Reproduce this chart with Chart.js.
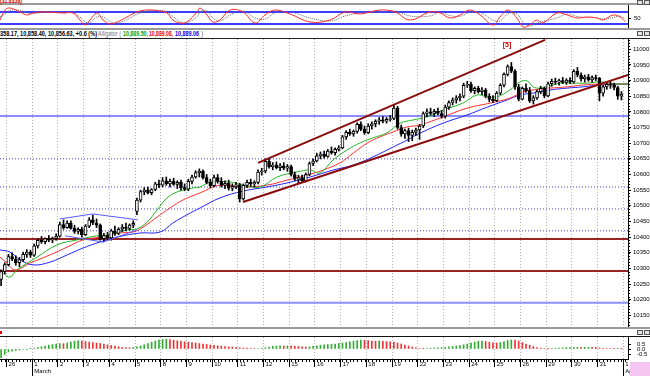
<!DOCTYPE html>
<html>
<head>
<meta charset="utf-8">
<title>Dow hourly - Alligator</title>
<script src="https://cdn.jsdelivr.net/npm/chart.js@4.4.1/dist/chart.umd.min.js"></script>
<style>
  html, body { margin: 0; padding: 0; background: #fff; }
  body { position: relative; width: 650px; height: 376px; overflow: hidden; font-family: "Liberation Sans", Arial, sans-serif; }
  canvas { position: absolute; left: 0; display: block; }
  .rule { position: absolute; left: 0; width: 650px; }
  .txt { position: absolute; white-space: nowrap; font-size: 7px; line-height: 8px; transform-origin: 0 0; display: inline-block; }
  .btn { position: absolute; width: 4px; height: 3px; border: 1px solid #555; background: #e2e2e2; }
</style>
</head>
<body>
<canvas id="osc" width="650" height="23" style="top:5px"></canvas>
<canvas id="main" width="650" height="288" style="top:39px"></canvas>
<canvas id="ao" width="650" height="39" style="top:337px"></canvas>

<div class="rule" style="top:3px;height:2px;background:#9a9a9a"></div>
<div class="rule" style="top:28px;height:2px;background:#9a9a9a"></div>
<div class="rule" style="top:38px;height:1px;background:#222"></div>
<div class="rule" style="top:327px;height:2px;background:#9a9a9a"></div>
<div class="rule" style="top:336px;height:1px;background:#111"></div>

<span class="txt" id="oscHead" style="left:0;top:-3px;color:#e00000;font-weight:bold">(31.8358)</span>
<span class="txt" id="h1" style="left:0;top:30px;font-weight:bold;color:#000">358.17, 10,858.40, 10,856.63, +0.6 (%)</span>
<span class="txt" id="h2" style="left:98px;top:30px;color:#777">Alligator (</span>
<span class="txt" id="h3" style="left:123px;top:30px;font-weight:bold;color:#00a000">10,889.50,</span>
<span class="txt" id="h4" style="left:149px;top:30px;font-weight:bold;color:#ee0000">10,889.08,</span>
<span class="txt" id="h5" style="left:175px;top:30px;font-weight:bold;color:#0000ee">10,889.06</span>
<span class="txt" id="h6" style="left:201px;top:30px;color:#777">)</span>

<div style="position:absolute;left:0;top:331px;width:2px;height:3px;background:#e00000"></div>
<div class="btn" style="left:637px;top:0"></div><div class="btn" style="left:644px;top:0"></div>
<div class="btn" style="left:637px;top:31px"></div><div class="btn" style="left:644px;top:31px"></div>
<div class="btn" style="left:637px;top:330px"></div><div class="btn" style="left:644px;top:330px"></div>
<div style="position:absolute;left:630px;top:362px;width:20px;height:14px;background:#f6c6f2"></div>

<script>
// time axis: Feb 26 .. Apr 1, hourly bars (7 per day), two Feb 25 bars at the left edge
const dayLabels = ['26','1','2','3','4','5','8','9','10','11','12','15','16','17','18','19','22','23','24','25','26','29','30','31','1'];
const monthStartDays = [1, 24];
const monthNames = ['March', 'Ap'];
const barsPerDay = 7;
const firstBar = -2;

const opens = [
  10265, 10290,
  10312, 10338, 10330, 10318, 10328, 10345, 10352,
  10342, 10372, 10390, 10385, 10395, 10390, 10396,
  10403, 10440, 10430, 10445, 10428, 10418, 10425,
  10408, 10435, 10455, 10445, 10438, 10395, 10405,
  10397, 10420, 10412, 10425, 10432, 10428, 10438,
  10482, 10518, 10545, 10550, 10542, 10552, 10570,
  10566, 10580, 10570, 10578, 10568, 10575, 10558,
  10553, 10578, 10592, 10606, 10610, 10590, 10575,
  10564, 10590, 10578, 10565, 10572, 10556, 10562,
  10567, 10522, 10565, 10575, 10570, 10575, 10608,
  10611, 10642, 10625, 10630, 10622, 10628, 10620,
  10625, 10600, 10585, 10590, 10580, 10600, 10635,
  10643, 10660, 10665, 10658, 10675, 10670, 10680,
  10685, 10720, 10735, 10730, 10738, 10760, 10745,
  10734, 10755, 10762, 10770, 10775, 10770, 10776,
  10779, 10812, 10750, 10730, 10740, 10725, 10735,
  10742, 10755, 10795, 10800, 10795, 10802, 10795,
  10786, 10815, 10830, 10838, 10845, 10850, 10885,
  10888, 10868, 10875, 10865, 10870, 10850, 10840,
  10836, 10860, 10885, 10920, 10945, 10930, 10880,
  10841, 10875, 10868, 10835, 10845, 10865, 10875,
  10851, 10890, 10898, 10895, 10900, 10894, 10902,
  10896, 10930, 10918, 10905, 10912, 10902, 10910,
  10907, 10860, 10880, 10888, 10885, 10878, 10850
];
const highs = [
  10295, 10318,
  10345, 10350, 10340, 10335, 10352, 10360, 10358,
  10378, 10395, 10402, 10398, 10405, 10400, 10410,
  10448, 10455, 10452, 10452, 10438, 10430, 10432,
  10440, 10462, 10470, 10458, 10442, 10412, 10415,
  10425, 10435, 10430, 10440, 10445, 10442, 10452,
  10525, 10550, 10558, 10560, 10555, 10575, 10582,
  10590, 10592, 10585, 10588, 10580, 10582, 10570,
  10585, 10598, 10612, 10618, 10615, 10600, 10585,
  10598, 10600, 10590, 10580, 10582, 10570, 10575,
  10572, 10570, 10582, 10585, 10580, 10615, 10620,
  10650, 10650, 10638, 10640, 10635, 10638, 10632,
  10630, 10608, 10598, 10598, 10605, 10640, 10650,
  10668, 10672, 10675, 10680, 10688, 10685, 10692,
  10725, 10740, 10745, 10742, 10765, 10768, 10755,
  10762, 10768, 10775, 10782, 10785, 10782, 10788,
  10822, 10818, 10758, 10745, 10748, 10742, 10748,
  10760, 10800, 10810, 10812, 10808, 10812, 10805,
  10822, 10835, 10845, 10852, 10858, 10892, 10898,
  10895, 10880, 10882, 10878, 10875, 10858, 10852,
  10865, 10890, 10925, 10950, 10958, 10935, 10888,
  10880, 10890, 10878, 10852, 10870, 10882, 10880,
  10895, 10905, 10908, 10905, 10910, 10906, 10910,
  10935, 10942, 10925, 10918, 10920, 10915, 10918,
  10910, 10885, 10895, 10898, 10892, 10882, 10865
];
const lows = [
  10245, 10282,
  10308, 10325, 10310, 10305, 10322, 10335, 10335,
  10338, 10365, 10380, 10378, 10385, 10382, 10390,
  10400, 10425, 10428, 10425, 10412, 10410, 10400,
  10405, 10430, 10440, 10430, 10390, 10385, 10392,
  10390, 10405, 10408, 10418, 10420, 10422, 10430,
  10472, 10512, 10535, 10538, 10535, 10548, 10558,
  10560, 10565, 10560, 10565, 10555, 10550, 10548,
  10548, 10570, 10588, 10592, 10585, 10570, 10558,
  10560, 10572, 10560, 10555, 10550, 10548, 10555,
  10512, 10518, 10558, 10562, 10560, 10570, 10598,
  10605, 10620, 10615, 10618, 10612, 10615, 10610,
  10595, 10580, 10572, 10575, 10576, 10596, 10628,
  10640, 10650, 10652, 10655, 10665, 10662, 10675,
  10682, 10712, 10725, 10722, 10732, 10740, 10728,
  10730, 10745, 10752, 10760, 10765, 10764, 10770,
  10775, 10745, 10722, 10715, 10705, 10708, 10725,
  10712, 10750, 10785, 10790, 10785, 10790, 10780,
  10780, 10808, 10822, 10828, 10835, 10845, 10878,
  10862, 10858, 10860, 10855, 10845, 10832, 10830,
  10832, 10855, 10880, 10915, 10925, 10872, 10835,
  10838, 10862, 10830, 10825, 10840, 10858, 10845,
  10848, 10882, 10888, 10885, 10890, 10888, 10890,
  10892, 10912, 10898, 10895, 10898, 10895, 10900,
  10835, 10850, 10872, 10875, 10870, 10840, 10838
];
const closes = [
  10290, 10312,
  10338, 10330, 10318, 10328, 10345, 10352, 10342,
  10372, 10390, 10385, 10395, 10390, 10396, 10403,
  10440, 10430, 10445, 10428, 10418, 10425, 10408,
  10435, 10455, 10445, 10438, 10395, 10405, 10397,
  10420, 10412, 10425, 10432, 10428, 10438, 10444,
  10518, 10545, 10550, 10542, 10552, 10570, 10566,
  10580, 10570, 10578, 10568, 10575, 10558, 10553,
  10578, 10592, 10606, 10610, 10590, 10575, 10564,
  10590, 10578, 10565, 10572, 10556, 10562, 10567,
  10522, 10565, 10575, 10570, 10575, 10608, 10611,
  10642, 10625, 10630, 10622, 10628, 10620, 10625,
  10600, 10585, 10590, 10580, 10600, 10635, 10643,
  10660, 10665, 10658, 10675, 10670, 10680, 10685,
  10720, 10735, 10730, 10738, 10760, 10745, 10734,
  10755, 10762, 10770, 10775, 10770, 10776, 10779,
  10812, 10750, 10730, 10740, 10725, 10735, 10742,
  10755, 10795, 10800, 10795, 10802, 10795, 10786,
  10815, 10830, 10838, 10845, 10850, 10885, 10888,
  10868, 10875, 10865, 10870, 10850, 10840, 10836,
  10860, 10885, 10920, 10945, 10930, 10880, 10841,
  10875, 10868, 10835, 10845, 10865, 10875, 10851,
  10890, 10898, 10895, 10900, 10894, 10902, 10896,
  10930, 10918, 10905, 10912, 10902, 10910, 10907,
  10860, 10880, 10888, 10885, 10878, 10850, 10857
];

// alligator lines at a few bar positions
const lipsBars = [-1.5, 0.4, 2.3, 7.8, 13.2, 18.7, 24.1, 27.7, 32.3, 35.0, 37.8, 40.5, 43.2, 45.9, 50.3, 52.2, 54.9, 60.4, 63.9, 68.5, 73.2, 78.6, 82.2, 84.9, 88.4, 92.2, 95.8, 99.3, 103.1, 106.7, 110.2, 114.0, 118.4, 123.8, 127.6, 130.4, 133.1, 136.6, 139.4, 141.3, 142.9, 144.8, 147.5, 150.3, 153.8, 157.6, 161.2, 163.9, 166.6, 168.8];
const lipsValues = [10285, 10272, 10295, 10336, 10375, 10391, 10404, 10407, 10423, 10426, 10448, 10487, 10525, 10544, 10557, 10560, 10576, 10576, 10566, 10560, 10592, 10608, 10614, 10605, 10646, 10678, 10701, 10717, 10733, 10764, 10774, 10784, 10806, 10828, 10854, 10848, 10848, 10870, 10896, 10899, 10880, 10876, 10883, 10892, 10892, 10892, 10896, 10892, 10889, 10889];
const teethBars = [-2.3, -0.4, 1.8, 5.9, 11.3, 16.0, 20.3, 24.9, 29.6, 33.9, 36.7, 40.5, 44.0, 47.6, 52.2, 57.6, 63.9, 70.4, 75.9, 81.3, 85.7, 90.3, 93.9, 97.7, 101.2, 104.8, 108.6, 112.1, 118.4, 124.9, 131.2, 136.6, 140.2, 142.9, 147.5, 152.2, 156.5, 161.2, 168.8];
const teethValues = [10336, 10317, 10295, 10317, 10343, 10368, 10391, 10400, 10413, 10416, 10432, 10464, 10493, 10519, 10541, 10566, 10560, 10566, 10582, 10598, 10614, 10637, 10668, 10700, 10720, 10736, 10752, 10758, 10784, 10812, 10828, 10844, 10864, 10870, 10876, 10880, 10886, 10889, 10889];
const jawBars = [-2.3, 0.4, 3.2, 6.7, 11.3, 16.0, 20.3, 24.9, 29.6, 35.8, 41.3, 44.8, 48.6, 52.2, 57.6, 63.9, 70.4, 75.9, 82.2, 88.4, 93.9, 99.3, 104.8, 108.6, 112.1, 118.4, 124.9, 130.4, 135.8, 139.4, 142.9, 147.5, 152.2, 156.5, 161.2, 168.8];
const jawValues = [10359, 10352, 10327, 10311, 10320, 10343, 10365, 10384, 10400, 10413, 10416, 10445, 10471, 10493, 10525, 10547, 10560, 10573, 10592, 10614, 10630, 10656, 10688, 10710, 10732, 10764, 10790, 10815, 10838, 10854, 10860, 10870, 10876, 10880, 10886, 10889];

// drawn lines: channel, wedge and horizontal levels
const upperChannelBars = [68.0, 146.2];
const upperChannelValues = [10637, 11030];
const lowerChannelBars = [63.9, 168.8];
const lowerChannelValues = [10512, 10918];
const wedgeTopBars = [14.0, 23.0, 35.3];
const wedgeTopValues = [10458, 10474, 10455];
const wedgeBottomBars = [15.4, 25.8, 35.0];
const wedgeBottomValues = [10404, 10384, 10423];
const solidBlueLevels = [10787, 10190];
const dottedBlueLevels = [10650, 10560, 10490, 10420];
const redLevels = [10394, 10292];
const priceTicks = [11000, 10950, 10900, 10850, 10800, 10750, 10700, 10650, 10600, 10550, 10500, 10450, 10400, 10350, 10300, 10250, 10200, 10150];
const waveLabel = { text: '[5]', bar: 135.8, price: 11013 };

// oscillator (top panel)
const oscBars = [-2.3, -0.9, 0.4, 3.2, 5.1, 6.7, 8.6, 10.5, 14.9, 17.6, 19.5, 20.9, 22.2, 24.1, 25.8, 27.7, 29.6, 32.3, 35.0, 37.8, 41.3, 43.2, 44.8, 46.7, 48.6, 51.4, 52.2, 54.1, 55.7, 57.6, 60.4, 63.9, 67.2, 69.9, 72.6, 76.7, 82.2, 87.6, 91.7, 95.8, 101.2, 105.3, 109.4, 114.8, 117.6, 120.3, 123.0, 125.7, 128.5, 132.0, 133.9, 136.1, 138.5, 140.2, 142.0, 143.9, 145.6, 149.4, 152.2, 154.9, 157.6, 160.3, 162.0, 164.7, 166.6, 168.0];
const oscValues = [40, 90, 100, 80, 65, 75, 80, 80, 75, 75, 40, 15, 40, 75, 40, 20, 30, 55, 80, 90, 85, 75, 40, 25, 30, 80, 100, 65, 30, 40, 90, 80, 25, 65, 90, 70, 30, 40, 80, 70, 90, 80, 40, 80, 75, 50, 65, 90, 65, 15, 55, 90, 50, 5, 15, 40, 25, 75, 65, 50, 55, 50, 40, 65, 55, 31.8];
const oscSignal = [55, 70, 88, 88, 75, 72, 76, 80, 77, 75, 55, 30, 28, 55, 55, 32, 25, 42, 68, 85, 88, 80, 58, 33, 27, 55, 80, 85, 50, 35, 65, 85, 50, 45, 75, 80, 50, 35, 60, 75, 80, 85, 60, 60, 78, 62, 58, 78, 78, 40, 35, 72, 70, 30, 10, 25, 33, 50, 70, 58, 52, 52, 45, 52, 60, 45];
const oscLevels = [80, 20];
const oscTicks = [50];

// awesome oscillator (bottom panel), one value per bar
const aoValues = [
  -0.9, -0.55,
  -0.3, -0.22, -0.15, -0.1, -0.05, -0.03, 0.02,
  0.08, 0.15, 0.22, 0.3, 0.38, 0.45, 0.5,
  0.55, 0.53, 0.6, 0.7, 0.78, 0.83, 0.8,
  0.75, 0.7, 0.65, 0.6, 0.55, 0.48, 0.42,
  0.35, 0.28, 0.22, 0.17, 0.13, 0.12, 0.16,
  0.22, 0.3, 0.42, 0.55, 0.68, 0.8, 0.9,
  0.95, 0.97, 0.93, 0.88, 0.83, 0.78, 0.73,
  0.68, 0.63, 0.6, 0.55, 0.5, 0.45, 0.4,
  0.36, 0.32, 0.28, 0.25, 0.22, 0.2, 0.17,
  0.13, 0.1, 0.08, 0.06, 0.05, 0.05, 0.07,
  0.12, 0.2, 0.27, 0.3, 0.32, 0.3, 0.31,
  0.3, 0.28, 0.25, 0.22, 0.2, 0.22, 0.26,
  0.32, 0.38, 0.42, 0.45, 0.48, 0.5, 0.55,
  0.6, 0.65, 0.72, 0.78, 0.85, 0.88, 0.86,
  0.84, 0.8, 0.78, 0.8, 0.77, 0.74, 0.72,
  0.68, 0.6, 0.5, 0.4, 0.3, 0.2, 0.12,
  0.05, 0.03, 0.05, 0.08, 0.1, 0.12, 0.14,
  0.18, 0.22, 0.26, 0.3, 0.35, 0.42, 0.5,
  0.6, 0.7, 0.78, 0.8, 0.75, 0.68, 0.62,
  0.6, 0.65, 0.75, 0.85, 0.9, 0.88, 0.8,
  0.65, 0.5, 0.38, 0.25, 0.15, 0.08, 0.05,
  0.02, 0.05, 0.08, 0.1, 0.12, 0.14, 0.15,
  0.16, 0.17, 0.16, 0.17, 0.18, 0.17, 0.16,
  0.1, 0.07, 0.05, 0.04, 0.03, 0.04, 0.02
];
const aoTicks = [0.5, 0, -0.5];

Chart.defaults.font.family = '"Liberation Sans", Arial, sans-serif';
Chart.defaults.font.size = 6;
Chart.defaults.color = '#000';

const X_MIN = -2.3, X_MAX = 168.78;
const dayStart = d => d * barsPerDay - 0.5;
const barX = i => i + firstBar;
const pts = (xs, ys) => xs.map((x, i) => ({ x: x, y: ys[i] }));
const flat = v => [{ x: X_MIN, y: v }, { x: X_MAX, y: v }];

const common = {
  responsive: false, animation: false, events: [],
  layout: { padding: 0 },
  plugins: { legend: { display: false }, tooltip: { enabled: false } }
};

const dayGrid = () => ({
  type: 'linear', min: X_MIN, max: X_MAX, offset: false,
  afterBuildTicks: s => { s.ticks = dayLabels.map((_, d) => ({ value: dayStart(d) })); },
  ticks: { display: false },
  grid: { color: '#b0b0b0', drawTicks: false, offset: false },
  border: { display: false, dash: [1, 2] }
});

// right-hand value axis; label overflow padding is removed so the plot fills the panel
const rightAxis = (min, max, ticks, fmt, pad) => ({
  position: 'right', min: min, max: max,
  afterBuildTicks: s => { s.ticks = ticks.map(v => ({ value: v })); },
  afterFit: s => { s.width = 22; s.paddingTop = 0; s.paddingBottom = 0; },
  ticks: { callback: fmt, padding: pad, font: { size: 6 } },
  grid: { drawOnChartArea: false, tickLength: 3, tickColor: '#000' },
  border: { display: true, color: '#000' }
});

// ---- top oscillator
new Chart(document.getElementById('osc'), {
  type: 'line',
  data: {
    datasets: [
      { data: pts(oscBars, oscValues), borderColor: '#ff2a2a', borderWidth: 1, pointRadius: 0, tension: 0.4 },
      { data: pts(oscBars, oscSignal), borderColor: '#6a6a6a', borderWidth: 1, borderDash: [1, 1], pointRadius: 0, tension: 0.4 },
      ...oscLevels.map(v => ({ data: flat(v), borderColor: '#3c3cff', borderWidth: 2, pointRadius: 0 }))
    ]
  },
  options: {
    ...common,
    scales: {
      x: { type: 'linear', display: false, min: X_MIN, max: X_MAX },
      y: rightAxis(0, 115, oscTicks, v => String(v), 3)
    }
  }
});

// ---- main price panel
const mainMarks = {
  id: 'mainMarks',
  afterDraw(chart) {
    const { ctx } = chart;
    const x = chart.scales.x, y = chart.scales.y;
    ctx.save();
    ctx.strokeStyle = '#000';
    ctx.lineWidth = 1;
    ctx.beginPath();
    for (let v = 10120; v <= 11030; v += 10) {
      const py = Math.round(y.getPixelForValue(v)) + 0.5;
      ctx.moveTo(y.left, py);
      ctx.lineTo(y.left + 2, py);
    }
    ctx.stroke();
    ctx.fillStyle = '#d00000';
    ctx.font = 'bold 7px "Liberation Sans", Arial, sans-serif';
    ctx.textAlign = 'center';
    ctx.textBaseline = 'middle';
    ctx.fillText(waveLabel.text, x.getPixelForValue(waveLabel.bar), y.getPixelForValue(waveLabel.price));
    ctx.restore();
  }
};

const bars = opens.map((_, i) => barX(i));
const lineSet = (data, color, width, order, extra) => Object.assign({
  type: 'line', data: data, borderColor: color, borderWidth: width, pointRadius: 0, fill: false, order: order
}, extra || {});

new Chart(document.getElementById('main'), {
  type: 'bar',
  data: {
    datasets: [
      lineSet(pts(upperChannelBars, upperChannelValues), '#8a0c0c', 2, 0),
      lineSet(pts(lowerChannelBars, lowerChannelValues), '#8a0c0c', 2, 0),
      lineSet(pts(wedgeTopBars, wedgeTopValues), '#5a5aff', 1, 0),
      lineSet(pts(wedgeBottomBars, wedgeBottomValues), '#5a5aff', 1, 0),
      {
        data: bars.map((x, i) => ({ x: x, y: [opens[i], closes[i]] })),
        backgroundColor: c => closes[c.dataIndex] >= opens[c.dataIndex] ? '#ffffff' : '#000000',
        borderColor: '#000', borderWidth: 1, borderSkipped: false,
        barThickness: 3, grouped: false, order: 1
      },
      {
        data: bars.map((x, i) => ({ x: x, y: [lows[i], highs[i]] })),
        backgroundColor: '#000', borderWidth: 0,
        barThickness: 1, grouped: false, order: 2
      },
      lineSet(pts(lipsBars, lipsValues), '#22b422', 1, 3, { tension: 0.4 }),
      lineSet(pts(teethBars, teethValues), '#ff2e2e', 1, 3, { tension: 0.4 }),
      lineSet(pts(jawBars, jawValues), '#2424ff', 1, 3, { tension: 0.4 }),
      ...solidBlueLevels.map(v => lineSet(flat(v), '#8c8cff', 2, 4)),
      ...dottedBlueLevels.map(v => lineSet(flat(v), '#4040e8', 1, 4, { borderDash: [1, 2] })),
      ...redLevels.map(v => lineSet(flat(v), '#9a2424', 2, 4))
    ]
  },
  options: {
    ...common,
    scales: {
      x: dayGrid(),
      y: rightAxis(10112.7, 11032.9, priceTicks, v => String(v), 2)
    }
  },
  plugins: [mainMarks]
});

// ---- awesome oscillator + time axis
const axisMarks = {
  id: 'axisMarks',
  afterDraw(chart) {
    const { ctx } = chart;
    const x = chart.scales.x;
    const top = x.top;
    ctx.save();
    ctx.strokeStyle = '#000';
    ctx.lineWidth = 1;
    ctx.beginPath();
    for (let k = -2; k <= 168; k++) {
      const px = Math.round(x.getPixelForValue(k)) + 0.5;
      ctx.moveTo(px, top);
      ctx.lineTo(px, top + 3);
    }
    monthStartDays.forEach(d => {
      const px = Math.round(x.getPixelForValue(dayStart(d))) + 0.5;
      ctx.moveTo(px, top);
      ctx.lineTo(px, chart.height);
    });
    ctx.stroke();
    ctx.restore();
  }
};

const aoDay = dayGrid();
Object.assign(aoDay, {
  position: 'bottom',
  afterFit: s => { s.height = 17; s.paddingLeft = 0; s.paddingRight = 0; },
  ticks: {
    display: true, autoSkip: false, maxRotation: 0, minRotation: 0,
    align: 'start', labelOffset: 2, padding: -6,
    font: { size: 6, lineHeight: 1.15 },
    callback: (v, i) => {
      const m = monthStartDays.indexOf(i);
      return m >= 0 ? [dayLabels[i], monthNames[m]] : dayLabels[i];
    }
  },
  grid: { color: '#b0b0b0', drawTicks: true, tickLength: 8, tickColor: '#000', offset: false },
  border: { display: true, color: '#000', dash: [1, 2] }
});

new Chart(document.getElementById('ao'), {
  type: 'bar',
  data: {
    datasets: [{
      data: aoValues.map((v, i) => ({ x: barX(i), y: v })),
      backgroundColor: aoValues.map((v, i) => (i > 0 && v < aoValues[i - 1]) ? '#ee3434' : '#2fae2f'),
      barThickness: 1, grouped: false
    }]
  },
  options: {
    ...common,
    scales: {
      x: aoDay,
      y: rightAxis(-1.0, 1.2, aoTicks, v => v.toFixed(1), 6)
    }
  },
  plugins: [axisMarks]
});

// squeeze the header texts to the widths seen in the picture
[['oscHead', 22], ['h1', 97], ['h2', 23], ['h3', 25], ['h4', 24], ['h5', 24]].forEach(([id, w]) => {
  const el = document.getElementById(id);
  el.style.transform = 'scaleX(' + (w / el.getBoundingClientRect().width) + ')';
});
</script>
</body>
</html>
